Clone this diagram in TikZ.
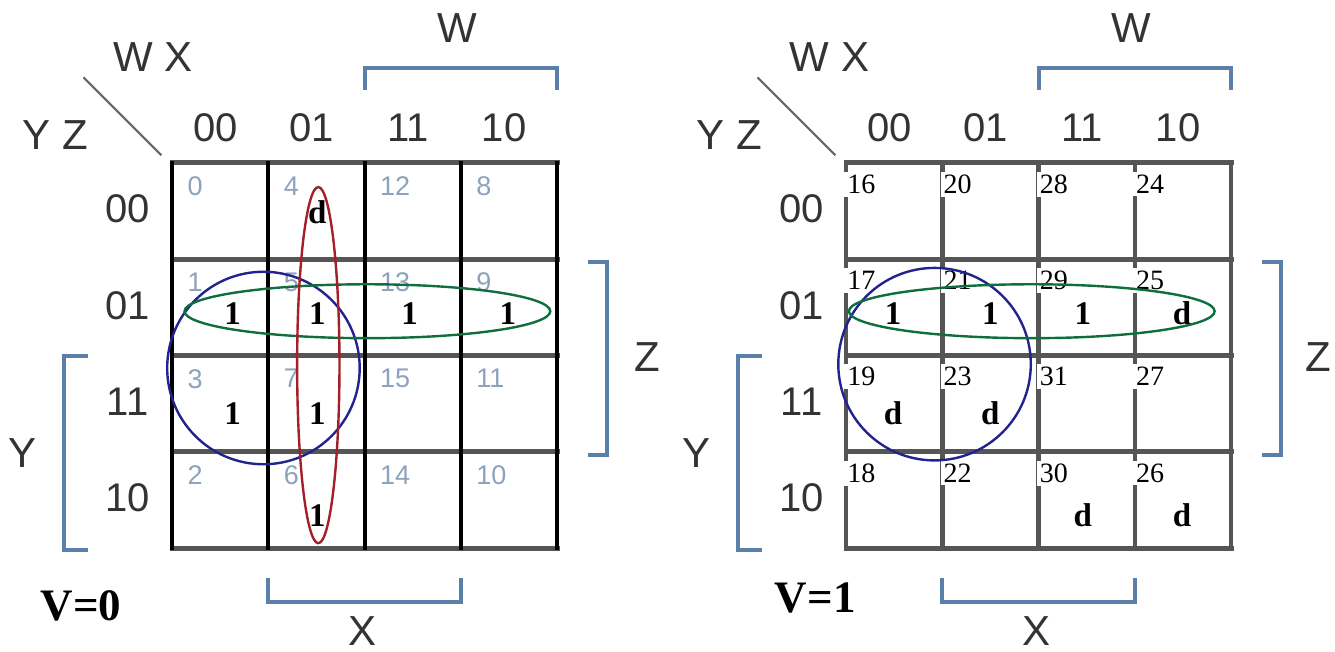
\documentclass[tikz,border=0pt]{standalone}
\usepackage{fontspec}
\setmainfont{Liberation Serif}
\setsansfont{Liberation Sans}
\definecolor{bracketblue}{HTML}{5A80AA}
\definecolor{idxgray}{HTML}{8DA2BC}
\definecolor{gridgray}{HTML}{555555}
\definecolor{textgray}{HTML}{333333}
\definecolor{loopred}{HTML}{A3202A}
\definecolor{loopgreen}{HTML}{0E6E3E}
\definecolor{loopblue}{HTML}{23238F}

\begin{document}
\begin{tikzpicture}[x=1pt,y=-1pt,
	hdr/.style={font=\sffamily\fontsize{40}{40}\selectfont, text=textgray},
	lbl/.style={font=\sffamily\fontsize{42}{42}\selectfont, text=textgray},
	idx/.style={anchor=north west, inner sep=0pt, font=\sffamily\fontsize{27}{27}\selectfont, text=idxgray},
	idxbox/.style={anchor=north west, inner xsep=3pt, inner ysep=3pt, fill=white, font=\fontsize{28}{28}\selectfont},
	val/.style={font=\bfseries\fontsize{33}{33}\selectfont},
	vlab/.style={font=\bfseries\fontsize{45}{45}\selectfont},
	brace/.style={draw=bracketblue, line width=4pt},
	kloop/.style={line width=2.4pt}]

\useasboundingbox (0,0) rectangle (1335,652);

%========================================
% LEFT: K-map for V=0
%========================================
\begin{scope}[shift={(172,163)}, x=96.25pt, y=-96.25pt]
	% Grid
	\foreach \j in {0,...,4}
	\draw[line width=5pt, gridgray, line cap=rect] (0,\j) -- (4,\j);
	\foreach \i in {0,...,4}
	\draw[line width=4pt, black, line cap=rect] (\i,0) -- (\i,4);
	
	% Headers
	\foreach \c/\t in {0/00,1/01,2/11,3/10}
	\node[hdr] (Lcol\c) at (\c+0.45,-0.37) {\t};
	\foreach \r/\t in {0/00,1/01,2/11,3/10}
	\node[hdr] (Lrow\r) at (-0.46,\r+0.48) {\t};
	\node[lbl] (Lwx) at (-0.2,-1.10) {W X};
	\node[lbl] (Lyz) at (-1.21,-0.29) {Y Z};
	\draw[line width=2pt, gray!80!black] (-0.92,-0.89) -- (-0.11,-0.08);
	
	% Variable brackets
	\draw[brace] (2,-0.76) -- (2,-0.99) -- (4,-0.99) -- (4,-0.76);
	\node[lbl] (LW) at (2.96,-1.40) {W};
	\draw[brace] (4.32,1.03) -- (4.52,1.03) -- (4.52,3.03) -- (4.32,3.03);
	\node[lbl] (LZ) at (4.94,2.02) {Z};
	\draw[brace] (-0.875,2) -- (-1.12,2) -- (-1.12,4.02) -- (-0.875,4.02);
	\node[lbl] (LY) at (-1.55,3.01) {Y};
	\draw[brace] (1,4.31) -- (1,4.56) -- (3,4.56) -- (3,4.31);
	\node[lbl] (LX) at (1.98,4.86) {X};
	
	% Minterm numbers
	\foreach \c/\w in {0/0,1/1,2/3,3/2}
	\foreach \r/\y in {0/0,1/1,2/3,3/2}{
		\pgfmathtruncatemacro\m{4*\w+\y}
		\node[idx] (Lm\m) at (\c+0.16,\r+0.14) {\m};
	}
	
	% Cell values
	\node[val] (Lv4) at (1.51,0.51) {d};
	\node[val] (Lv1) at (0.63,1.56) {1};
	\node[val] (Lv5) at (1.51,1.56) {1};
	\node[val] (Lv13) at (2.47,1.56) {1};
	\node[val] (Lv9) at (3.49,1.56) {1};
	\node[val] (Lv3) at (0.63,2.60) {1};
	\node[val] (Lv7) at (1.51,2.60) {1};
	\node[val] (Lv6) at (1.51,3.66) {1};
	
	% Groupings
	\draw[kloop, loopblue] (0.95,2.13) ellipse [x radius=1.0, y radius=1.0];
	\draw[kloop, loopgreen] (2.03,1.54) ellipse [x radius=1.90, y radius=0.28];
	\draw[kloop, loopred] (1.52,2.10) ellipse [x radius=0.22, y radius=1.85];
	
	\node[vlab] (Lv) at (-0.945,4.60) {V=0};
\end{scope}
%========================================
% RIGHT: K-map for V=1
%========================================
\begin{scope}[shift={(846,163)}, x=96.25pt, y=-96.25pt]
	% Grid
	\foreach \j in {0,...,4}
	\draw[line width=5pt, gridgray, line cap=rect] (0,\j) -- (4,\j);
	\foreach \i in {0,...,4}
	\draw[line width=4.5pt, gridgray, line cap=rect] (\i,0) -- (\i,4);
	
	% Headers
	\foreach \c/\t in {0/00,1/01,2/11,3/10}
	\node[hdr] (Rcol\c) at (\c+0.45,-0.37) {\t};
	\foreach \r/\t in {0/00,1/01,2/11,3/10}
	\node[hdr] (Rrow\r) at (-0.46,\r+0.48) {\t};
	\node[lbl] (Rwx) at (-0.17,-1.10) {W X};
	\node[lbl] (Ryz) at (-1.21,-0.29) {Y Z};
	\draw[line width=2pt, gray!80!black] (-0.92,-0.89) -- (-0.11,-0.08);
	
	% Variable brackets
	\draw[brace] (2,-0.76) -- (2,-0.99) -- (4,-0.99) -- (4,-0.76);
	\node[lbl] (RW) at (2.96,-1.40) {W};
	\draw[brace] (4.32,1.03) -- (4.52,1.03) -- (4.52,3.03) -- (4.32,3.03);
	\node[lbl] (RZ) at (4.91,2.02) {Z};
	\draw[brace] (-0.875,2) -- (-1.12,2) -- (-1.12,4.02) -- (-0.875,4.02);
	\node[lbl] (RY) at (-1.55,3.01) {Y};
	\draw[brace] (1,4.31) -- (1,4.56) -- (3,4.56) -- (3,4.31);
	\node[lbl] (RX) at (1.98,4.86) {X};
	
	% Minterm numbers
	\foreach \c/\w in {0/0,1/1,2/3,3/2}
	\foreach \r/\y in {0/0,1/1,2/3,3/2}{
		\pgfmathtruncatemacro\m{16+4*\w+\y}
		\node[idxbox] (Rm\m) at (\c-0.02,\r+0.09) {\m};
	}
	
	% Cell values
	\node[val] (Rv17) at (0.49,1.56) {1};
	\node[val] (Rv21) at (1.50,1.56) {1};
	\node[val] (Rv29) at (2.46,1.56) {1};
	\node[val] (Rv25) at (3.49,1.56) {d};
	\node[val] (Rv19) at (0.49,2.60) {d};
	\node[val] (Rv23) at (1.50,2.60) {d};
	\node[val] (Rv30) at (2.46,3.66) {d};
	\node[val] (Rv26) at (3.49,3.66) {d};
	
	% Groupings
	\draw[kloop, loopblue] (0.92,2.09) ellipse [x radius=1.0, y radius=1.0];
	\draw[kloop, loopgreen] (1.93,1.54) ellipse [x radius=1.90, y radius=0.28];
	
	\node[vlab] (Rv) at (-0.32,4.52) {V=1};
\end{scope}
\end{tikzpicture}
\end{document}
